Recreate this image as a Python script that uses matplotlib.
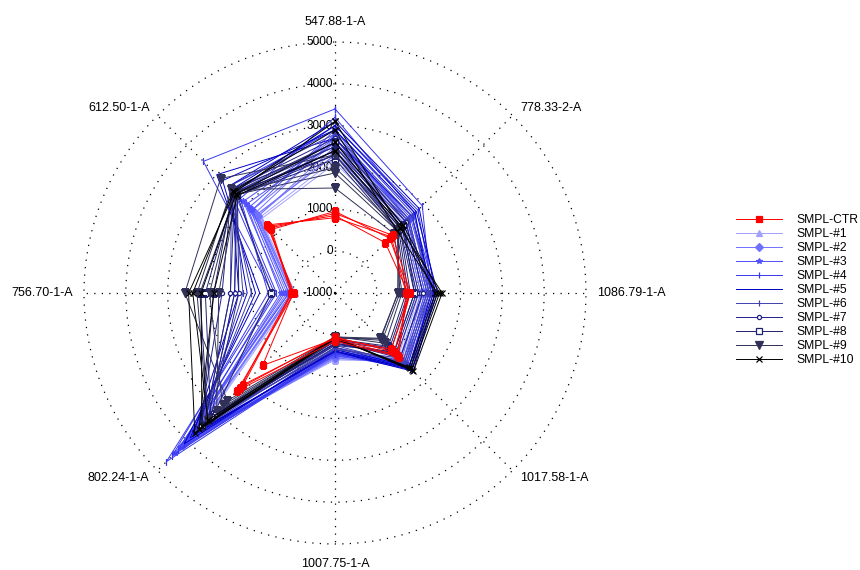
import numpy as np
import matplotlib
matplotlib.use('Agg')
import matplotlib.pyplot as plt
import matplotlib.transforms as mtransforms

plt.rcParams['font.family'] = ['Liberation Sans', 'DejaVu Sans']

# ---------------- data ----------------
axis_labels = ['547.88-1-A', '778.33-2-A', '1086.79-1-A', '1017.58-1-A',
               '1007.75-1-A', '802.24-1-A', '756.70-1-A', '612.50-1-A']
r_ticks = [-1000, 0, 1000, 2000, 3000, 4000, 5000]
series_names = ['SMPL-CTR', 'SMPL-#1', 'SMPL-#2', 'SMPL-#3', 'SMPL-#4', 'SMPL-#5',
                'SMPL-#6', 'SMPL-#7', 'SMPL-#8', 'SMPL-#9', 'SMPL-#10']

# each series: replicate profiles, values in axis_labels order
smpl_ctr = [[850, 700, 750, 1100, 100, 1450, 0, 1250],
            [900, 950, 800, 1000, 50, 2200, 50, 1200],
            [800, 900, 700, 1150, 150, 2300, -20, 1300],
            [950, 850, 780, 900, 80, 2100, 30, 1150]]
smpl_1 = [[2200, 1300, 1000, 1200, 550, 3600, 0, 1550],
          [2400, 1400, 1100, 1300, 600, 3800, 50, 1600],
          [2100, 1250, 950, 1150, 500, 3500, -50, 1500],
          [2300, 1350, 1050, 1250, 580, 3700, 20, 1650]]
smpl_2 = [[2500, 1400, 1100, 1300, 500, 3900, 0, 1600],
          [2700, 1500, 1200, 1400, 550, 4100, 100, 1700],
          [2300, 1350, 1050, 1250, 450, 3700, 50, 1650],
          [2600, 1450, 1150, 1350, 520, 4000, 150, 1800]]
smpl_3 = [[2800, 1500, 1200, 1400, 450, 4200, 200, 1900],
          [2600, 1600, 1250, 1450, 500, 4000, 300, 2000],
          [2900, 1450, 1150, 1350, 400, 4400, 100, 1800],
          [2700, 1550, 1300, 1500, 480, 3900, 250, 2100]]
smpl_4 = [[3400, 1950, 1300, 1500, 400, 4700, 500, 3450],
          [3000, 1800, 1350, 1600, 450, 4300, 400, 2400],
          [3200, 1700, 1250, 1450, 350, 4500, 600, 2200],
          [2900, 1650, 1400, 1550, 420, 4100, 450, 2600]]
smpl_5 = [[2900, 1700, 1300, 1550, 350, 3900, 900, 2800],
          [3100, 1850, 1400, 1650, 400, 3700, 1100, 2600],
          [2700, 1600, 1350, 1500, 300, 4100, 800, 3000],
          [3000, 1750, 1450, 1600, 380, 3800, 1300, 2500]]
smpl_6 = [[2600, 1500, 1200, 1300, 300, 3500, 1200, 2400],
          [2400, 1400, 1100, 1200, 350, 3300, 1400, 2300],
          [2800, 1600, 1300, 1400, 250, 3700, 1000, 2600],
          [2500, 1450, 1250, 1350, 320, 3400, 1500, 2500]]
smpl_7 = [[2500, 1300, 1000, 1100, 200, 3400, 1500, 2400],
          [2300, 1200, 900, 1000, 250, 3200, 1300, 2300],
          [2700, 1400, 1100, 1200, 150, 3600, 1700, 2500],
          [2400, 1250, 950, 1050, 220, 3300, 1400, 2350]]
smpl_8 = [[2400, 1200, 800, 900, 150, 3300, 2230, 2350],
          [2200, 1100, 700, 800, 100, 3100, 530, 2300],
          [2600, 1300, 900, 1000, 200, 3500, 1900, 2450],
          [2300, 1150, 750, 850, 120, 3200, 2100, 2400]]
smpl_9 = [[2300, 1130, 510, 530, 50, 2640, 2590, 2870],
          [1870, 1100, 550, 600, 60, 3000, 1780, 2330],
          [1510, 1000, 600, 700, 40, 3300, 2300, 2500],
          [2000, 1150, 500, 550, 80, 2800, 2000, 2400]]
smpl_10 = [[3100, 1200, 1560, 1650, 50, 3740, 2500, 2400],
           [2600, 1300, 1500, 1600, 80, 3500, 2200, 2350],
           [2900, 1100, 1450, 1550, 60, 3300, 2400, 2450],
           [2400, 1250, 1400, 1500, 100, 3600, 1900, 2300]]

series_data = [smpl_ctr, smpl_1, smpl_2, smpl_3, smpl_4, smpl_5,
               smpl_6, smpl_7, smpl_8, smpl_9, smpl_10]

# ---------------- styles ----------------
colors = ['#ff0000', '#a0a0ff', '#7070ff', '#5050ff', '#3838f0', '#0000c8',
          '#4040b0', '#20208a', '#202070', '#303058', '#000000']
markers = ['s', '^', 'D', '*', '|', None, '|', 'o', 's', 'v', 'x']
msizes = [5, 4, 4, 4, 5, 0, 5, 3, 4, 6, 5]
mfaces = [None, None, None, None, None, None, None, 'white', 'white', None, None]

fig = plt.figure(figsize=(8.6, 5.7), dpi=100)
ax = fig.add_axes([0.0977, 0.0456, 0.5837, 0.8807], projection='polar')
ax.set_theta_zero_location('N')
ax.set_theta_direction(-1)

n = len(axis_labels)
theta = np.arange(n) * 2 * np.pi / n
theta_closed = np.append(theta, theta[0])

for k, (name, reps) in enumerate(zip(series_names, series_data)):
    for j, rep in enumerate(reps):
        vals = np.append(rep, rep[0])
        kw = dict(color=colors[k], linewidth=0.7, zorder=3 if k == 0 else 2)
        if markers[k] is not None:
            kw.update(marker=markers[k], markersize=msizes[k],
                      markeredgewidth=0.9)
            if mfaces[k] is not None:
                kw.update(markerfacecolor=mfaces[k])
        ax.plot(theta_closed, vals, label=name if j == 0 else None, **kw)

ax.set_ylim(-1000, 5000)
ax.set_yticks(r_ticks[1:-1])
ax.set_yticklabels([])
ax.set_xticks(theta)
ax.set_xticklabels([])
dot_style = dict(color='black', linestyle=(0, (1, 5)), linewidth=0.9)
ax.grid(True, **dot_style)
ax.spines['polar'].set_visible(False)

# outer dotted ring at the top of the scale
ring_t = np.linspace(0, 2 * np.pi, 400)
ax.plot(ring_t, np.full_like(ring_t, r_ticks[-1]), clip_on=False, zorder=1,
        **dot_style)

# radial value labels along the top spoke
off = mtransforms.offset_copy(ax.transData, fig=fig, x=-2, y=0, units='dots')
for v in r_ticks:
    ax.text(0, v, str(v), ha='right', va='center', fontsize=8.5,
            transform=off, zorder=1)

# axis (spoke) labels
for t, lab in zip(theta, axis_labels):
    s = np.sin(t)
    if abs(s) < 1e-6:
        ha, r = 'center', 5480
    elif s > 0:
        ha, r = 'left', 5270
    else:
        ha, r = 'right', 5270
    ax.text(t, r, lab, ha=ha, va='center', fontsize=9, clip_on=False)

fig.legend(loc='center left', bbox_to_anchor=(0.856, 0.491), frameon=False,
           fontsize=8.7, handlelength=3.8, handletextpad=1.2,
           labelspacing=0.17, borderpad=0, borderaxespad=0)

fig.savefig('out.png', dpi=100)
